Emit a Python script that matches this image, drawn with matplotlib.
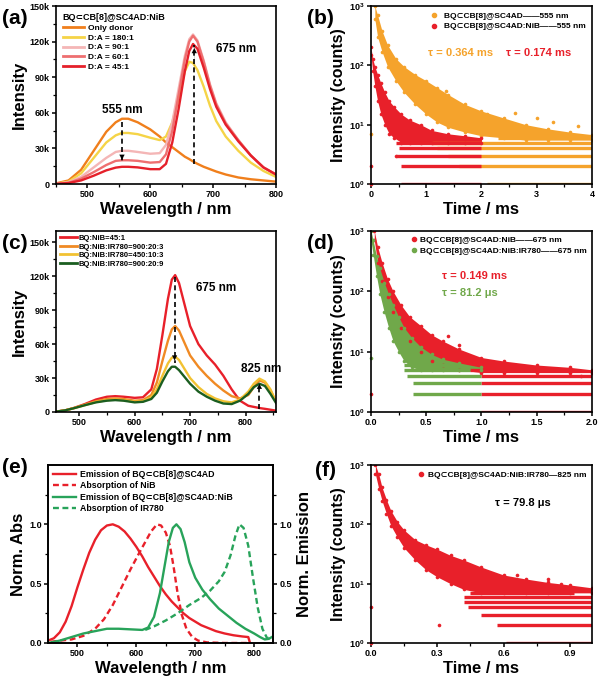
import matplotlib
matplotlib.use('Agg')
import matplotlib.pyplot as plt

plt.rcParams['font.family'] = ['Liberation Sans', 'DejaVu Sans']
plt.rcParams['font.weight'] = 'bold'
plt.rcParams['axes.labelweight'] = 'bold'
plt.rcParams['axes.linewidth'] = 1.2
plt.rcParams['mathtext.fontset'] = 'custom'
plt.rcParams['mathtext.bf'] = 'Liberation Sans:bold'
plt.rcParams['mathtext.rm'] = 'Liberation Sans:bold'

# ---- (a) emission spectra, BQ:NiB titration (k counts)
wl_a = [450, 470, 490, 510, 530, 545, 555, 565, 580, 600, 615, 625, 635, 645, 655, 662, 668, 675, 685, 695, 705, 720, 740, 760, 780, 800]
a_donor = [0.5, 3, 12, 28, 44, 52, 55, 55, 52, 46, 40, 35, 31, 27, 23, 21, 19, 17, 14.5, 12.5, 10.5, 8, 5.5, 4, 3, 2]
a_180 = [0.3, 2, 9, 22, 35, 41, 43, 43, 42, 39, 37, 40, 52, 72, 95, 103, 102, 96, 82, 66, 53, 40, 28, 18, 11, 6]
a_90 = [0.2, 1.5, 6, 14, 22, 27, 28, 28, 27, 25.5, 26, 33, 52, 80, 108, 122, 126, 121, 104, 84, 68, 52, 37, 24, 14, 8]
a_60 = [0.1, 1, 4.5, 10, 16, 19.5, 20, 20, 19.5, 18, 18.5, 25, 45, 75, 105, 120, 125, 120, 103, 83, 67, 51, 37, 24, 14, 8]
a_45 = [0.1, 0.8, 3, 7, 11.5, 13.8, 14.5, 14.5, 14, 12.5, 12.5, 17, 35, 63, 95, 112, 118, 114, 98, 80, 65, 50, 36, 24, 14, 8]
a_names = ['Only donor', 'D:A = 180:1', 'D:A = 90:1', 'D:A = 60:1', 'D:A = 45:1']
a_colors = ['#f07f1c', '#f5d447', '#f4b6b6', '#ee6f70', '#e5202a']

# ---- (c) emission spectra with IR780 (k counts)
wl_c = [458, 475, 490, 510, 530, 550, 565, 580, 600, 615, 630, 640, 650, 660, 667, 673, 680, 690, 700, 715, 730, 745, 760, 775, 790, 805, 815, 825, 835, 845, 855]
c_45 = [0.3, 1.5, 3.5, 7, 11, 13.5, 14, 13.5, 12.5, 13, 20, 38, 68, 100, 117, 121, 114, 95, 76, 60, 50, 42, 32, 20, 10, 5.5, 4.5, 3.5, 2.8, 2, 1.2]
c_903 = [0.3, 1.5, 3.5, 6.5, 9.5, 11.5, 12, 11.5, 10, 10.5, 15, 26, 45, 63, 73, 76, 72, 61, 50, 40, 32, 25, 19, 14, 12, 15, 22, 28, 26, 19, 9]
c_453 = [0.3, 1.5, 3.3, 6, 8.8, 10.5, 11, 10.5, 9, 9.5, 13, 20, 32, 43, 48, 49, 46, 38, 30, 22, 16, 12, 9.5, 8.5, 11, 18, 25, 29.5, 27, 20, 9]
c_909 = [0.3, 1.5, 3.3, 6, 8.5, 10, 10.5, 10, 8.5, 9, 11.5, 17, 27, 36, 40, 40, 37, 31, 25, 18, 13.5, 10, 7.5, 7, 10, 16, 22, 25, 23, 16, 8]
c_names = ['BQ:NiB=45:1', 'BQ:NiB:IR780=900:20:3', 'BQ:NiB:IR780=450:10:3', 'BQ:NiB:IR780=900:20:9']
c_colors = ['#e8202a', '#f08a24', '#f2c232', '#1b5e20']

# ---- (e) normalised spectra
e_bq_x = [450, 460, 470, 480, 490, 500, 510, 520, 530, 540, 550, 560, 570, 580, 590, 600, 610, 620, 630, 640, 650, 660, 670, 680, 690, 700, 710, 720, 735, 750, 765, 780, 790, 793]
e_bq_y = [0.02, 0.04, 0.09, 0.18, 0.31, 0.47, 0.62, 0.76, 0.87, 0.95, 0.99, 1.0, 0.98, 0.94, 0.88, 0.81, 0.73, 0.64, 0.56, 0.48, 0.41, 0.35, 0.3, 0.25, 0.21, 0.18, 0.15, 0.13, 0.1, 0.08, 0.065, 0.055, 0.05, 0.0]
e_nib_x = [455, 470, 490, 510, 530, 545, 560, 575, 590, 605, 615, 625, 635, 642, 650, 657, 663, 670, 677, 685, 695, 705, 720, 750, 790]
e_nib_y = [0.01, 0.02, 0.03, 0.06, 0.12, 0.2, 0.32, 0.47, 0.62, 0.76, 0.85, 0.94, 1.0, 0.99, 0.93, 0.82, 0.65, 0.42, 0.24, 0.12, 0.05, 0.02, 0.005, 0.0, 0.0]
e_em_x = [450, 470, 490, 510, 530, 550, 570, 590, 610, 620, 630, 640, 648, 655, 662, 668, 675, 682, 690, 700, 712, 725, 740, 755, 770, 785, 800, 810, 818, 825, 830]
e_em_y = [0.0, 0.02, 0.05, 0.08, 0.1, 0.12, 0.12, 0.115, 0.11, 0.13, 0.22, 0.42, 0.65, 0.85, 0.97, 1.0, 0.96, 0.85, 0.68, 0.55, 0.45, 0.37, 0.29, 0.23, 0.17, 0.12, 0.08, 0.05, 0.03, 0.035, 0.05]
e_ir_x = [615, 630, 650, 670, 690, 710, 725, 740, 750, 760, 768, 775, 782, 790, 798, 806, 814, 822, 830]
e_ir_y = [0.11, 0.14, 0.19, 0.25, 0.32, 0.38, 0.44, 0.52, 0.6, 0.74, 0.9, 1.0, 0.97, 0.82, 0.55, 0.3, 0.12, 0.04, 0.05]

# ---- decay clouds: time (ms), upper / lower edge of the dense point cloud, count bands
b_or_t = [0.07, 0.12, 0.2, 0.3, 0.45, 0.6, 0.8, 1.0, 1.2, 1.4, 1.7, 2.0, 2.4, 2.8, 3.2, 3.6, 4.0]
b_or_up = [1000, 700, 380, 220, 130, 95, 70, 55, 42, 32, 22, 17, 13, 10, 8.5, 7.5, 6.8]
b_or_lo = [600, 300, 170, 95, 55, 35, 22, 15, 11, 9, 7.5, 6.5, 6, 5.5, 5.5, 5.5, 5.5]
b_or_bands = [(6, 2.3, 4.0), (5, 1.1, 4.0), (4, 1.2, 4.0), (3, 1.4, 4.0), (2, 1.6, 4.0), (1, 2.1, 4.0)]
b_or_out = [(0.0, 7), (1.35, 37), (2.1, 15), (2.6, 16), (3.0, 13), (3.74, 9.4), (3.3, 11)]
b_red_t = [0.0, 0.03, 0.07, 0.12, 0.18, 0.25, 0.33, 0.42, 0.55, 0.7, 0.9, 1.1, 1.4, 1.7, 2.0]
b_red_up = [200, 130, 95, 70, 50, 35, 25, 20, 15, 12, 10, 8, 7, 6.5, 6]
b_red_lo = [150, 80, 45, 25, 15, 10, 7, 6, 5, 5, 5, 5, 5, 5, 5]
b_red_bands = [(6, 0.55, 1.3), (5, 0.45, 2.0), (4, 0.5, 2.0), (3, 0.45, 2.0), (2, 0.55, 2.0), (1, 0.55, 2.0)]
b_red_out = [(0.0, 2), (0.0, 1), (0.45, 3)]

d_red_t = [0.03, 0.06, 0.1, 0.15, 0.2, 0.27, 0.35, 0.45, 0.55, 0.65, 0.8, 1.0, 1.2, 1.5, 1.8, 2.0]
d_red_up = [1000, 550, 300, 160, 100, 60, 38, 27, 19, 15, 11, 8, 7, 6, 5.5, 5]
d_red_lo = [700, 300, 150, 80, 45, 25, 15, 10, 7, 6, 5, 4.5, 4.5, 4.5, 4.5, 4.5]
d_red_bands = [(5, 0.9, 1.6), (4, 1.0, 2.0), (3, 1.0, 2.0), (2, 1.0, 2.0), (1, 1.0, 2.0)]
d_red_out = [(0.0, 2), (1.75, 5), (1.9, 4), (1.3, 6), (0.8, 13), (0.7, 18)]
d_gr_t = [0.0, 0.02, 0.05, 0.08, 0.12, 0.16, 0.2, 0.25, 0.3, 0.37, 0.45, 0.55, 0.65, 0.8, 1.0]
d_gr_up = [1000, 700, 380, 240, 140, 90, 60, 38, 25, 17, 12, 9, 7.5, 6.5, 5.5]
d_gr_lo = [700, 400, 180, 90, 45, 25, 15, 10, 7, 5.5, 5, 5, 5, 5, 5]
d_gr_bands = [(6, 0.3, 0.75), (5, 0.3, 0.9), (4, 0.33, 1.0), (3, 0.38, 1.0), (2, 0.38, 1.0), (1, 0.44, 1.0)]
d_gr_out = [(0.0, 8)]

f_t = [0.02, 0.035, 0.05, 0.07, 0.09, 0.12, 0.15, 0.2, 0.25, 0.3, 0.36, 0.42, 0.5, 0.6, 0.7, 0.8, 0.9, 1.0]
f_up = [1000, 700, 420, 260, 170, 110, 80, 55, 45, 38, 30, 25, 19, 14, 12, 10.5, 9.5, 8.5]
f_lo = [700, 400, 250, 150, 95, 60, 40, 25, 17, 13, 10, 8, 7, 7, 7, 7, 7, 7]
f_bands = [(7, 0.45, 0.92), (6, 0.42, 1.0), (5, 0.42, 1.0), (4, 0.44, 1.0), (3, 0.5, 1.0), (2, 0.57, 1.0), (1, 0.61, 1.0)]
f_out = [(0.0, 4), (0.0, 1), (0.31, 2), (0.86, 10), (0.8, 12), (0.66, 14)]

orange = '#f5a32c'
red = '#e8202a'
green = '#70a84a'
TICK = 6.5
LAB = 12

fig = plt.figure(figsize=(6, 6.82), dpi=100)

def style(ax):
    ax.tick_params(direction='out', length=3, width=1.1, labelsize=TICK, pad=1.5)
    ax.tick_params(which='minor', direction='out', length=2, width=0.9)
    for lab in ax.get_xticklabels() + ax.get_yticklabels():
        lab.set_fontweight('bold')

def logy(ax):
    ax.set_yscale('log')
    ax.set_ylim(1, 1000)
    ax.set_yticks([1, 10, 100, 1000])
    ax.set_yticklabels([r'$\mathbf{10^0}$', r'$\mathbf{10^1}$', r'$\mathbf{10^2}$', r'$\mathbf{10^3}$'])
    ax.yaxis.set_minor_locator(matplotlib.ticker.NullLocator())
    ax.set_ylabel('Intensity (counts)', fontsize=LAB - 0.5, labelpad=2)
    ax.set_xlabel('Time / ms', fontsize=LAB, labelpad=2)

def cloud(ax, t, up, lo, bands, out, color):
    ax.fill_between(t, lo, up, color=color, lw=0)
    ax.plot(t, up, 'o', ms=2.6, color=color, mec='none')
    ax.plot(t, lo, 'o', ms=2.6, color=color, mec='none')
    for lev, t0, t1 in bands:
        ax.hlines(lev, t0, t1, color=color, lw=2.4)
    ax.plot([p[0] for p in out], [p[1] for p in out], 'o', ms=2.6, color=color, mec='none', clip_on=False)

def arrow(ax, x0, y0, x1, y1):
    ax.plot([x0, x1], [y0, y1], '--', color='k', lw=1.2, dashes=(3, 2))
    ax.annotate('', xy=(x1, y1), xytext=(x0, y0 + (y1 - y0) * 0.8),
                arrowprops=dict(arrowstyle='-|>', color='k', lw=0.1, mutation_scale=9))

# (a)
ax = fig.add_axes([0.0933, 0.7302, 0.3667, 0.261])
for ys, nm, c in zip([a_donor, a_180, a_90, a_60, a_45], a_names, a_colors):
    ax.plot(wl_a, [v * 1000 for v in ys], color=c, lw=1.7, label=nm)
ax.set_xlim(450, 800)
ax.set_ylim(0, 150000)
ax.set_xticks([500, 600, 700, 800])
ax.set_xticks([450, 550, 650, 750], minor=True)
ax.set_yticks([0, 30000, 60000, 90000, 120000, 150000])
ax.set_yticklabels(['0', '30k', '60k', '90k', '120k', '150k'])
ax.set_yticks([15000, 45000, 75000, 105000, 135000], minor=True)
arrow(ax, 555, 52000, 555, 18000)
arrow(ax, 670, 17000, 670, 117000)
ax.text(555, 62000, '555 nm', fontsize=8.5, ha='center', va='center')
ax.text(705, 114000, '675 nm', fontsize=8.5, ha='left', va='center')
leg = ax.legend(loc='upper left', frameon=False, fontsize=6, title='BQ\u2282CB[8]@SC4AD:NiB',
                title_fontproperties={'size': 6.5, 'weight': 'bold'}, handlelength=2.6,
                handletextpad=0.5, labelspacing=0.25, borderaxespad=0.4)
leg._legend_box.align = 'left'
for l in leg.get_lines():
    l.set_linewidth(2)
ax.set_ylabel('Intensity', fontsize=LAB, labelpad=2)
ax.set_xlabel('Wavelength / nm', fontsize=LAB, labelpad=2)
style(ax)
fig.text(0.003, 0.973, '(a)', fontsize=15, fontweight='bold', va='center')

# (b)
ax = fig.add_axes([0.6183, 0.7302, 0.3683, 0.261])
cloud(ax, b_or_t, b_or_up, b_or_lo, b_or_bands, b_or_out, orange)
cloud(ax, b_red_t, b_red_up, b_red_lo, b_red_bands, b_red_out, red)
ax.set_xlim(0, 4)
ax.set_xticks([0, 1, 2, 3, 4])
ax.set_xticks([0.5, 1.5, 2.5, 3.5], minor=True)
logy(ax)
ax.plot([], [], 'o', ms=3, color=orange, label='BQ\u2282CB[8]@SC4AD\u2014\u2014555 nm')
ax.plot([], [], 'o', ms=3, color=red, label='BQ\u2282CB[8]@SC4AD:NiB\u2014\u2014555 nm')
ax.legend(loc='upper right', frameon=False, fontsize=6, handlelength=1.2, handletextpad=0.6,
          labelspacing=0.35, borderaxespad=0.3)
ax.text(0.26, 0.735, '\u03c4 = 0.364 ms', transform=ax.transAxes, fontsize=8, color=orange, ha='left', va='center')
ax.text(0.61, 0.735, '\u03c4 = 0.174 ms', transform=ax.transAxes, fontsize=8, color=red, ha='left', va='center')
style(ax)
fig.text(0.512, 0.973, '(b)', fontsize=15, fontweight='bold', va='center')

# (c)
ax = fig.add_axes([0.0933, 0.3959, 0.3667, 0.2654])
for ys, nm, c in zip([c_45, c_903, c_453, c_909], c_names, c_colors):
    ax.plot(wl_c, [v * 1000 for v in ys], color=c, lw=1.7, label=nm)
ax.set_xlim(458, 855)
ax.set_ylim(0, 160000)
ax.set_xticks([500, 600, 700, 800])
ax.set_xticks([550, 650, 750, 850], minor=True)
ax.set_yticks([0, 30000, 60000, 90000, 120000, 150000])
ax.set_yticklabels(['0', '30k', '60k', '90k', '120k', '150k'])
ax.set_yticks([15000, 45000, 75000, 105000, 135000], minor=True)
arrow(ax, 672, 119000, 672, 43000)
arrow(ax, 825, 3000, 825, 25000)
ax.text(710, 110000, '675 nm', fontsize=8.5, ha='left', va='center')
ax.text(828, 38000, '825 nm', fontsize=8.5, ha='center', va='center')
leg = ax.legend(loc='upper left', frameon=False, fontsize=5.5, handlelength=2.2,
                handletextpad=0.2, labelspacing=0.15, borderaxespad=0.1)
for l in leg.get_lines():
    l.set_linewidth(2)
ax.set_ylabel('Intensity', fontsize=LAB, labelpad=2)
ax.set_xlabel('Wavelength / nm', fontsize=LAB, labelpad=2)
style(ax)
fig.text(0.003, 0.643, '(c)', fontsize=15, fontweight='bold', va='center')

# (d)
ax = fig.add_axes([0.6183, 0.3959, 0.3683, 0.2654])
cloud(ax, d_red_t, d_red_up, d_red_lo, d_red_bands, d_red_out, red)
cloud(ax, d_gr_t, d_gr_up, d_gr_lo, d_gr_bands, d_gr_out, green)
ax.set_xlim(0, 2)
ax.set_xticks([0, 0.5, 1.0, 1.5, 2.0])
ax.set_xticks([0.25, 0.75, 1.25, 1.75], minor=True)
logy(ax)
ax.plot([], [], 'o', ms=3, color=red, label='BQ\u2282CB[8]@SC4AD:NiB\u2014\u2014675 nm')
ax.plot([], [], 'o', ms=3, color=green, label='BQ\u2282CB[8]@SC4AD:NiB:IR780\u2014\u2014675 nm')
ax.legend(loc='upper right', frameon=False, fontsize=6, handlelength=1.0, handletextpad=0.3,
          labelspacing=0.35, borderaxespad=0.2)
ax.text(0.32, 0.75, '\u03c4 = 0.149 ms', transform=ax.transAxes, fontsize=8, color=red, va='center')
ax.text(0.32, 0.655, '\u03c4 = 81.2 \u03bcs', transform=ax.transAxes, fontsize=8, color=green, va='center')
style(ax)
fig.text(0.512, 0.643, '(d)', fontsize=15, fontweight='bold', va='center')

# (e)
ax = fig.add_axes([0.08, 0.0572, 0.375, 0.261])
ax.plot(e_bq_x, e_bq_y, color=red, lw=1.7, label='Emission of BQ\u2282CB[8]@SC4AD')
ax.plot(e_nib_x, e_nib_y, color=red, lw=1.7, ls=(0, (2.5, 1.5)), label='Absorption of NiB')
ax.plot(e_em_x, e_em_y, color='#28a35a', lw=1.7, label='Emission of BQ\u2282CB[8]@SC4AD:NiB')
ax.plot(e_ir_x, e_ir_y, color='#28a35a', lw=1.7, ls=(0, (2.5, 1.5)), label='Absorption of IR780')
ax.set_xlim(450, 832)
ax.set_ylim(0, 1.5)
ax.set_xticks([500, 600, 700, 800])
ax.set_xticks([550, 650, 750], minor=True)
ax.set_yticks([0, 0.5, 1.0])
ax.set_yticks([0.25, 0.75, 1.25], minor=True)
ax.legend(loc='upper left', frameon=False, fontsize=6.3, handlelength=2.6, handletextpad=0.4,
          labelspacing=0.25, borderaxespad=0.2)
ax.set_ylabel('Norm. Abs', fontsize=LAB, labelpad=2)
ax.set_xlabel('Wavelength / nm', fontsize=LAB, labelpad=2)
style(ax)
ax2 = ax.twinx()
ax2.set_ylim(0, 1.5)
ax2.set_yticks([0, 0.5, 1.0])
ax2.set_yticks([0.25, 0.75, 1.25], minor=True)
ax2.set_ylabel('Norm. Emission', fontsize=LAB, labelpad=4)
style(ax2)
fig.text(0.003, 0.315, '(e)', fontsize=15, fontweight='bold', va='center')

# (f)
ax = fig.add_axes([0.6183, 0.0572, 0.3683, 0.261])
cloud(ax, f_t, f_up, f_lo, f_bands, f_out, red)
ax.set_xlim(0, 1.0)
ax.set_xticks([0, 0.3, 0.6, 0.9])
ax.set_xticks([0.15, 0.45, 0.75], minor=True)
logy(ax)
ax.plot([], [], 'o', ms=3, color=red, label='BQ\u2282CB[8]@SC4AD:NiB:IR780\u2014825 nm')
ax.legend(loc='upper right', frameon=False, fontsize=6, handlelength=1.0, handletextpad=0.3,
          borderaxespad=0.3)
ax.text(0.56, 0.786, '\u03c4 = 79.8 \u03bcs', transform=ax.transAxes, fontsize=8, color='k', va='center')
style(ax)
fig.text(0.525, 0.31, '(f)', fontsize=15, fontweight='bold', va='center')

fig.savefig('out.png', dpi=100)
